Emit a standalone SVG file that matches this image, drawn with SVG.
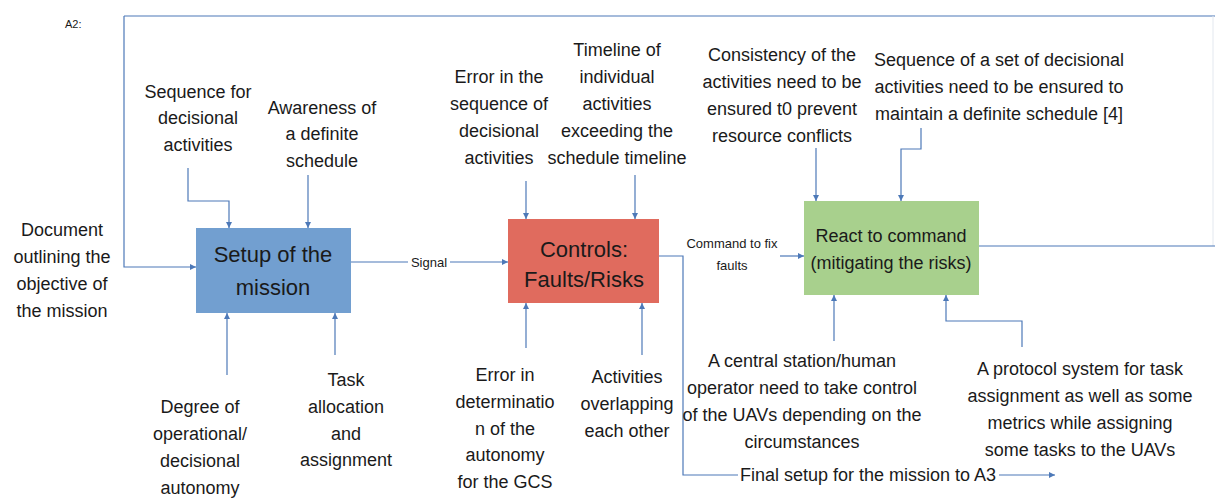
<svg xmlns="http://www.w3.org/2000/svg" width="1215" height="498" viewBox="0 0 1215 498">
  <style>
    .lbl { font-family: "Liberation Sans", Arial, sans-serif; font-size: 18px; fill: #1a1a1a; text-anchor: middle; }
    .box-t { font-family: "Liberation Sans", Arial, sans-serif; font-size: 22px; fill: #1a1a1a; text-anchor: middle; }
    .small { font-family: "Liberation Sans", Arial, sans-serif; font-size: 13px; fill: #1a1a1a; text-anchor: middle; }
    .tag { font-family: "Liberation Sans", Arial, sans-serif; font-size: 11px; fill: #1a1a1a; }
    .wire { fill: none; stroke: #4d79b8; stroke-width: 1.2; }
    .arrow { fill: none; stroke: #4d79b8; stroke-width: 1.2; marker-end: url(#head); }
  </style>
  <defs>
    <marker id="head" viewBox="0 0 10 10" refX="10" refY="5" markerWidth="6" markerHeight="6" markerUnits="userSpaceOnUse" orient="auto">
      <path d="M0,0 L10,5 L0,10 z" fill="#4d79b8"/>
    </marker>
  </defs>

  <rect width="1215" height="498" fill="#ffffff"/>

  <text class="tag" x="65" y="28">A2:</text>

  <!-- connectors -->
  <g id="connectors">
    <!-- feedback loop from the last activity back to the first -->
    <path class="wire" d="M124,16 H1215"/>
    <path d="M1213,16 V246" fill="none" stroke="#e3e8ef" stroke-width="1"/>
    <path class="wire" d="M979,246 H1215"/>
    <path class="arrow" d="M124,16 V267 H196"/>

    <!-- controls into setup -->
    <path class="arrow" d="M188,168 V201 H229 V228"/>
    <path class="arrow" d="M308,175 V228"/>
    <!-- mechanisms into setup -->
    <path class="arrow" d="M227,375 V313"/>
    <path class="arrow" d="M335,355 V313"/>

    <!-- signal -->
    <path class="wire" d="M351,262 H408"/>
    <path class="arrow" d="M450,262 H508"/>

    <!-- controls into faults/risks -->
    <path class="arrow" d="M526,181 V219"/>
    <path class="arrow" d="M635,175 V219"/>
    <path class="arrow" d="M526,348 V303"/>
    <path class="arrow" d="M642,355 V303"/>

    <!-- command to fix faults and final output -->
    <path class="wire" d="M659,256 H683 V475 H738"/>
    <path class="arrow" d="M780,256 H804"/>
    <path class="arrow" d="M999,475 H1055"/>

    <!-- into react -->
    <path class="arrow" d="M816,148 V201"/>
    <path class="arrow" d="M921,128 V149 H901 V201"/>
    <path class="arrow" d="M834,341 V295"/>
    <path class="arrow" d="M1022,347 V321 H946 V295"/>
  </g>

  <!-- activity boxes -->
  <g id="setup">
    <rect x="196" y="228" width="155" height="85" fill="#729fd0"/>
    <text class="box-t" x="273" y="262">Setup of the</text>
    <text class="box-t" x="273" y="295">mission</text>
  </g>
  <g id="controls">
    <rect x="508" y="219" width="151" height="84" fill="#e06b5e"/>
    <text class="box-t" x="584" y="257">Controls:</text>
    <text class="box-t" x="584" y="287">Faults/Risks</text>
  </g>
  <g id="react">
    <rect x="804" y="201" width="175" height="94" fill="#a8d08d"/>
    <text class="lbl" x="891" y="242">React to command</text>
    <text class="lbl" x="891" y="269">(mitigating the risks)</text>
  </g>

  <!-- labels -->
  <g id="label-sequence">
    <text class="lbl" x="198" y="98">Sequence for</text>
    <text class="lbl" x="198" y="124">decisional</text>
    <text class="lbl" x="198" y="151">activities</text>
  </g>
  <g id="label-awareness">
    <text class="lbl" x="322" y="114">Awareness of</text>
    <text class="lbl" x="322" y="140">a definite</text>
    <text class="lbl" x="322" y="167">schedule</text>
  </g>
  <g id="label-document">
    <text class="lbl" x="62" y="236">Document</text>
    <text class="lbl" x="62" y="263">outlining the</text>
    <text class="lbl" x="62" y="290">objective of</text>
    <text class="lbl" x="62" y="317">the mission</text>
  </g>
  <g id="label-degree">
    <text class="lbl" x="200" y="413">Degree of</text>
    <text class="lbl" x="200" y="440">operational/</text>
    <text class="lbl" x="200" y="467">decisional</text>
    <text class="lbl" x="200" y="494">autonomy</text>
  </g>
  <g id="label-task">
    <text class="lbl" x="346" y="386">Task</text>
    <text class="lbl" x="346" y="413">allocation</text>
    <text class="lbl" x="346" y="440">and</text>
    <text class="lbl" x="346" y="466">assignment</text>
  </g>
  <g id="label-signal">
    <text class="small" x="429" y="267">Signal</text>
  </g>
  <g id="label-error-sequence">
    <text class="lbl" x="499" y="83">Error in the</text>
    <text class="lbl" x="499" y="110">sequence of</text>
    <text class="lbl" x="499" y="137">decisional</text>
    <text class="lbl" x="499" y="164">activities</text>
  </g>
  <g id="label-timeline">
    <text class="lbl" x="617" y="56">Timeline of</text>
    <text class="lbl" x="617" y="83">individual</text>
    <text class="lbl" x="617" y="110">activities</text>
    <text class="lbl" x="617" y="137">exceeding the</text>
    <text class="lbl" x="617" y="164">schedule timeline</text>
  </g>
  <g id="label-error-autonomy">
    <text class="lbl" x="505" y="381">Error in</text>
    <text class="lbl" x="505" y="408">determinatio</text>
    <text class="lbl" x="505" y="435">n of the</text>
    <text class="lbl" x="505" y="461">autonomy</text>
    <text class="lbl" x="505" y="488">for the GCS</text>
  </g>
  <g id="label-overlap">
    <text class="lbl" x="627" y="383">Activities</text>
    <text class="lbl" x="627" y="410">overlapping</text>
    <text class="lbl" x="627" y="437">each other</text>
  </g>
  <g id="label-command">
    <text class="small" x="732" y="248">Command to fix</text>
    <text class="small" x="732" y="270">faults</text>
  </g>
  <g id="label-final">
    <text class="lbl" x="868" y="481">Final setup for the mission to A3</text>
  </g>
  <g id="label-consistency">
    <text class="lbl" x="782" y="61">Consistency of the</text>
    <text class="lbl" x="782" y="88">activities need to be</text>
    <text class="lbl" x="782" y="115">ensured t0 prevent</text>
    <text class="lbl" x="782" y="142">resource conflicts</text>
  </g>
  <g id="label-schedule">
    <text class="lbl" x="999" y="66">Sequence of a set of decisional</text>
    <text class="lbl" x="999" y="93">activities need to be ensured to</text>
    <text class="lbl" x="999" y="120">maintain a definite schedule [4]</text>
  </g>
  <g id="label-central">
    <text class="lbl" x="802" y="367">A central station/human</text>
    <text class="lbl" x="802" y="394">operator need to take control</text>
    <text class="lbl" x="802" y="421">of the UAVs depending on the</text>
    <text class="lbl" x="802" y="448">circumstances</text>
  </g>
  <g id="label-protocol">
    <text class="lbl" x="1080" y="375">A protocol system for task</text>
    <text class="lbl" x="1080" y="402">assignment as well as some</text>
    <text class="lbl" x="1080" y="429">metrics while assigning</text>
    <text class="lbl" x="1080" y="456">some tasks to the UAVs</text>
  </g>
</svg>
